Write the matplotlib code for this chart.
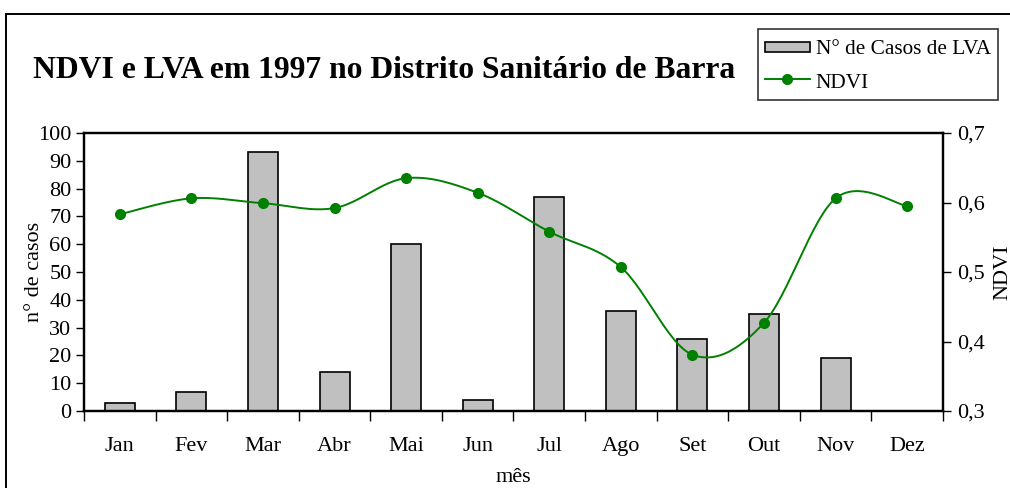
import matplotlib
matplotlib.use("Agg")
import matplotlib.pyplot as plt
import numpy as np
from matplotlib.patches import Rectangle
from matplotlib.lines import Line2D
from matplotlib.legend_handler import HandlerPatch
from matplotlib.ticker import FuncFormatter, FixedLocator

months = ["Jan", "Fev", "Mar", "Abr", "Mai", "Jun", "Jul", "Ago", "Set", "Out", "Nov", "Dez"]
casos = [3, 7, 93, 14, 60, 4, 77, 36, 26, 35, 19, 0]
ndvi = [0.583, 0.606, 0.599, 0.592, 0.635, 0.614, 0.558, 0.507, 0.381, 0.427, 0.606, 0.595]

title = "NDVI e LVA em 1997 no Distrito Sanitário de Barra"
bar_label = "N° de Casos de LVA"
line_label = "NDVI"

plt.rcParams['font.family'] = ['Liberation Serif', 'DejaVu Serif']
FS = 16

fig = plt.figure(figsize=(10.1, 4.88), dpi=100)
W, H = 1010, 488

ax = fig.add_axes([84 / W, 1 - 411 / H, (943 - 84) / W, (411 - 133) / H])
x = np.arange(len(months))
ax.bar(x, casos, width=0.42, color="#C0C0C0", edgecolor="black", linewidth=1.2, zorder=2)
ax.set_xlim(-0.5, len(months) - 0.5)
ax.set_ylim(0, 100)
ax.set_yticks(np.arange(0, 101, 10))
ax.set_xticks(x)
ax.set_xticklabels(months, fontsize=FS)
ax.xaxis.set_minor_locator(FixedLocator(np.arange(-0.5, len(months), 1.0)))
ax.tick_params(axis='x', which='major', length=0, pad=19)
ax.tick_params(axis='x', which='minor', length=7, width=1, direction='out')
ax.tick_params(axis='y', labelsize=FS, length=6, width=1, direction='out', pad=3)
ax.set_ylabel("n° de casos", fontsize=FS, labelpad=-4)
ax.set_xlabel("mês", fontsize=FS, labelpad=8)
for s in ax.spines.values():
    s.set_linewidth(1.6)

ax2 = ax.twinx()
ax2.set_ylim(0.3, 0.7)
ax2.set_yticks([0.3, 0.4, 0.5, 0.6, 0.7])
ax2.yaxis.set_major_formatter(FuncFormatter(lambda v, p: f"{v:.1f}".replace(".", ",")))
ax2.tick_params(axis='y', labelsize=FS, length=6, width=1, direction='out', pad=4)
ax2.set_ylabel("NDVI", fontsize=FS, labelpad=6)
for s in ax2.spines.values():
    s.set_linewidth(1.6)

# Smoothed line (Catmull-Rom style Bezier as in spreadsheet smoothing)
px = x.astype(float)
py = np.array(ndvi, dtype=float)
cx, cy = [], []
n = len(px)
t = np.linspace(0, 1, 30)
for i in range(n - 1):
    p0 = (px[max(i - 1, 0)], py[max(i - 1, 0)])
    p1 = (px[i], py[i])
    p2 = (px[i + 1], py[i + 1])
    p3 = (px[min(i + 2, n - 1)], py[min(i + 2, n - 1)])
    b1 = (p1[0] + (p2[0] - p0[0]) / 6, p1[1] + (p2[1] - p0[1]) / 6)
    b2 = (p2[0] - (p3[0] - p1[0]) / 6, p2[1] - (p3[1] - p1[1]) / 6)
    bx = (1 - t) ** 3 * p1[0] + 3 * (1 - t) ** 2 * t * b1[0] + 3 * (1 - t) * t ** 2 * b2[0] + t ** 3 * p2[0]
    by = (1 - t) ** 3 * p1[1] + 3 * (1 - t) ** 2 * t * b1[1] + 3 * (1 - t) * t ** 2 * b2[1] + t ** 3 * p2[1]
    cx.extend(bx)
    cy.extend(by)
ax2.plot(cx, cy, color="#008000", linewidth=1.4, zorder=3)
ax2.plot(px, py, linestyle="none", marker="o", markersize=7, color="#008000", zorder=4)

fig.text(33 / W, 1 - 70 / H, title, fontsize=22.8, fontweight='bold', ha='left', va='center')


def thin_rect(legend, orig_handle, xdescent, ydescent, width, height, fontsize):
    h = 10 * 72 / 100.0
    return Rectangle((-xdescent, -ydescent + (height - h) / 2), width, h)


LFS = 15.3
patch_handle = Rectangle((0, 0), 1, 1, facecolor="#C0C0C0", edgecolor="black", linewidth=1.2)
handles = [patch_handle,
           Line2D([0], [0], color="#008000", linewidth=1.4, marker="o", markersize=7)]
leg = fig.legend(handles, [bar_label, line_label], loc='upper left',
                 bbox_to_anchor=(758 / W, 1 - 29 / H), fontsize=LFS, frameon=True,
                 fancybox=False, edgecolor='black', borderpad=0.33, labelspacing=0.52,
                 handlelength=2.1, handleheight=1.2, handletextpad=0.28, borderaxespad=0,
                 handler_map={Rectangle: HandlerPatch(patch_func=thin_rect)})
leg.get_frame().set_linewidth(1.2)

# figure border
fig.add_artist(Rectangle((5.5 / W, -0.05), 1.1, 1 - 14.5 / H + 0.05, transform=fig.transFigure,
                         fill=False, edgecolor='black', linewidth=1.4))

fig.savefig("out.png", dpi=100)
